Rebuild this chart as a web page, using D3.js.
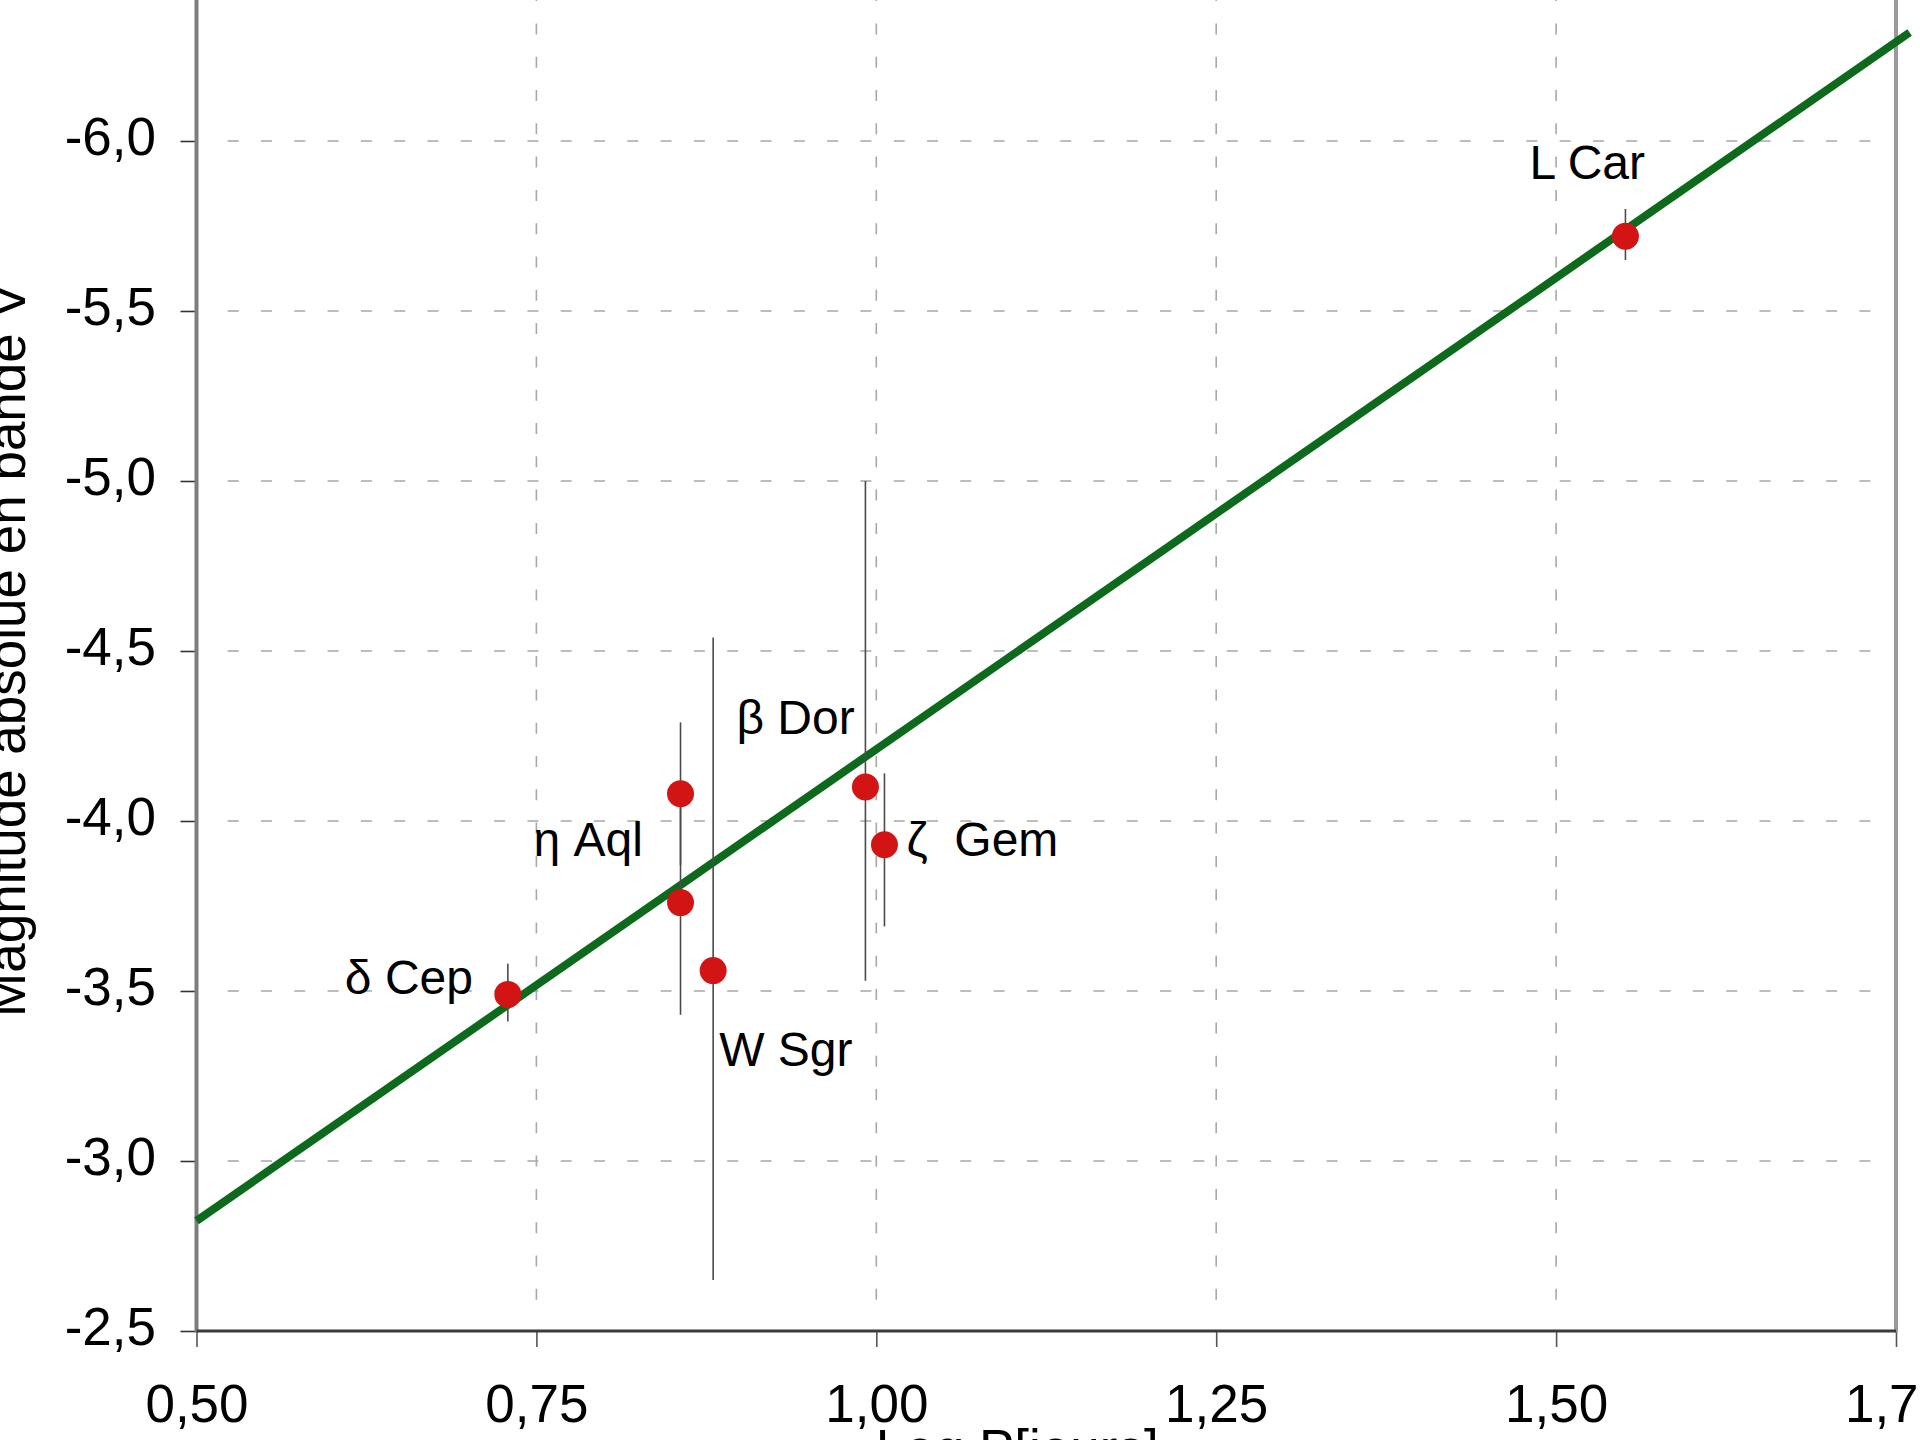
<!DOCTYPE html>
<html lang="fr">
<head>
<meta charset="utf-8">
<title>Relation période-luminosité des Céphéides</title>
<script src="https://cdn.jsdelivr.net/npm/d3@7"></script>
<style>
  html, body { margin: 0; padding: 0; background: #ffffff; }
  svg { display: block; font-family: "Liberation Sans", Arial, Helvetica, sans-serif; }
  .label { white-space: pre; }
</style>
</head>
<body>
<svg id="chart" width="1920" height="1440"></svg>
<script>
// Céphéides galactiques : log de la période (jours) et magnitude absolue V
const stars     = ["δ Cep", "η Aql", "η Aql", "W Sgr", "β Dor", "ζ Gem", "L Car"];
const logP      = [0.729, 0.856, 0.856, 0.880, 0.992, 1.006, 1.551];
const magV      = [-3.49, -4.08, -3.76, -3.56, -4.10, -3.93, -5.72];
// bornes des barres d'erreur (côté brillant / côté faible)
const magBright = [-3.58, -4.29, -4.09, -4.54, -5.00, -4.14, -5.80];
const magFaint  = [-3.41, -3.87, -3.43, -2.65, -3.53, -3.69, -5.65];

// droite d'ajustement période-luminosité (extrémités)
const fitLogP = [0.50, 1.76];
const fitMag  = [-2.824, -6.319];

// graduations
const xTicks = [0.50, 0.75, 1.00, 1.25, 1.50, 1.75];
const yTicks = [-6.0, -5.5, -5.0, -4.5, -4.0, -3.5, -3.0, -2.5];
const xDomain = [0.50, 1.75];
const yDomain = [-2.5, -6.5];

// étiquettes des étoiles : texte, point de rattachement, décalage en pixels
const starLabels = [
  { text: "δ Cep",  point: 0, dx: -163, dy: 0 },
  { text: "η Aql",  point: 1, dx: -147, dy: 62 },
  { text: "W Sgr",  point: 3, dx: 6,    dy: 95 },
  { text: "β Dor",  point: 4, dx: -129, dy: -53 },
  { text: "ζ  Gem", point: 5, dx: 22,   dy: 11 },
  { text: "L Car",  point: 6, dx: -96,  dy: -57 }
];

const svg = d3.select("#chart");

const x = d3.scaleLinear().domain(xDomain).range([196.5, 1896]);
const y = d3.scaleLinear().domain(yDomain).range([1331, -29]);

const x0 = x(xDomain[0]), x1 = x(xDomain[1]);
const yBottom = y(yDomain[0]), yTop = y(yDomain[1]);

// quadrillage pointillé
const grid = svg.append("g")
  .attr("stroke", "#a8a8a8")
  .attr("stroke-width", 1.6)
  .attr("stroke-dasharray", "11 22.3")
  .attr("fill", "none");

grid.selectAll("line.h")
  .data(yTicks.filter(d => d !== yDomain[0]))
  .join("line")
  .attr("class", "h")
  .attr("x1", x0 + 20).attr("x2", x1 - 4)
  .attr("y1", d => y(d)).attr("y2", d => y(d))
  .attr("stroke-dashoffset", 22.1);

grid.selectAll("line.v")
  .data(xTicks.filter(d => d !== xDomain[0] && d !== xDomain[1]))
  .join("line")
  .attr("class", "v")
  .attr("x1", d => x(d)).attr("x2", d => x(d))
  .attr("y1", yBottom - 20).attr("y2", yTop)
  .attr("stroke-dashoffset", 22.1);

// axes
const yAxis = d3.axisLeft(y)
  .tickValues(yTicks)
  .tickSize(16)
  .tickFormat(d => d.toFixed(1).replace(".", ","));

const xAxis = d3.axisBottom(x)
  .tickValues(xTicks)
  .tickSize(16)
  .tickFormat(d => d.toFixed(2).replace(".", ","));

const gy = svg.append("g").attr("transform", `translate(${x0},0)`).call(yAxis);
gy.select(".domain").remove();
gy.selectAll(".tick line").attr("stroke", "#333").attr("stroke-width", 1.6);
gy.selectAll(".tick text")
  .attr("x", -40.5).attr("dy", "0.26em")
  .attr("fill", "#000").attr("font-size", 53)
  .attr("font-family", "Liberation Sans, Arial, Helvetica, sans-serif");

const gx = svg.append("g").attr("transform", `translate(0,${yBottom})`).call(xAxis);
gx.select(".domain").remove();
gx.selectAll(".tick line").attr("stroke", "#555").attr("stroke-width", 1.6);
gx.selectAll(".tick text")
  .attr("y", 91).attr("dy", 0)
  .attr("fill", "#000").attr("font-size", 53)
  .attr("font-family", "Liberation Sans, Arial, Helvetica, sans-serif");

// cadre : axe vertical gauche, bord droit, axe horizontal
svg.append("line")
  .attr("x1", x0).attr("x2", x0).attr("y1", yTop).attr("y2", yBottom + 1.5)
  .attr("stroke", "#7d7d7d").attr("stroke-width", 4);
svg.append("line")
  .attr("x1", x1).attr("x2", x1).attr("y1", yTop).attr("y2", yBottom + 1.5)
  .attr("stroke", "#9a9a9a").attr("stroke-width", 4);
svg.append("line")
  .attr("x1", x0).attr("x2", x1).attr("y1", yBottom).attr("y2", yBottom)
  .attr("stroke", "#3a3a3a").attr("stroke-width", 3.2);

// droite d'ajustement
const fitLine = d3.line().x(d => x(d[0])).y(d => y(d[1]));
svg.append("path")
  .datum(d3.zip(fitLogP, fitMag))
  .attr("d", fitLine)
  .attr("fill", "none")
  .attr("stroke", "#0d6a1d")
  .attr("stroke-width", 8);

// barres d'erreur
const idx = d3.range(stars.length);
svg.append("g")
  .selectAll("line")
  .data(idx)
  .join("line")
  .attr("x1", i => x(logP[i])).attr("x2", i => x(logP[i]))
  .attr("y1", i => y(magBright[i])).attr("y2", i => y(magFaint[i]))
  .attr("stroke", "#4a4a4a").attr("stroke-width", 1.6);

// points
svg.append("g")
  .selectAll("circle")
  .data(idx)
  .join("circle")
  .attr("cx", i => x(logP[i]))
  .attr("cy", i => y(magV[i]))
  .attr("r", 13.5)
  .attr("fill", "#d31414");

// noms des étoiles
svg.append("g")
  .selectAll("text")
  .data(starLabels)
  .join("text")
  .attr("class", "label")
  .attr("x", d => x(logP[d.point]) + d.dx)
  .attr("y", d => y(magV[d.point]) + d.dy)
  .attr("font-size", 48)
  .attr("fill", "#000")
  .text(d => d.text);

// titres des axes
svg.append("text")
  .attr("transform", `translate(25,650) rotate(-90)`)
  .attr("text-anchor", "middle")
  .attr("font-size", 53)
  .attr("fill", "#000")
  .text("Magnitude absolue en bande V");

svg.append("text")
  .attr("x", (x0 + x1) / 2 - 29)
  .attr("y", 1467)
  .attr("text-anchor", "middle")
  .attr("font-size", 53)
  .attr("fill", "#000")
  .text("Log P[jours]");
</script>
</body>
</html>
